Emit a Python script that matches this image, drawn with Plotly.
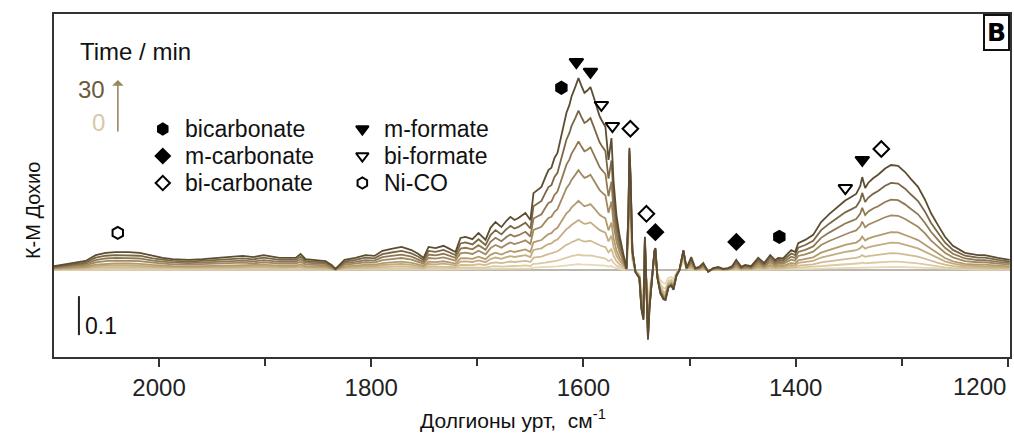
import plotly.graph_objects as go

# ---------------- data ----------------
wavenumber = [2099, 2078.6, 2069.2, 2059.7, 2050.3, 2040.9, 2028.6, 2018.3, 2006.0, 1996.6, 1987.2,
              1972.1, 1958.9, 1943.9, 1932.6, 1921.2, 1910.9, 1901.5, 1886.4, 1871.3, 1866.6, 1861.9,
              1843.1, 1837.4, 1833.7, 1829.9, 1825.2, 1814.9, 1805.4, 1797.0, 1789.4, 1781.0, 1771.5,
              1762.1, 1755.5, 1750.7, 1746.0, 1739.4, 1731.9, 1726.2, 1720.6, 1715.9, 1711.2, 1704.6,
              1698.9, 1692.3, 1687.6, 1682.9, 1677.3, 1672.6, 1668.8, 1665.0, 1661.3, 1654.7, 1650.0,
              1647.1, 1643.4, 1639.6, 1635.9, 1633.0, 1630.2, 1627.3, 1624.5, 1621.7, 1618.8, 1616.0,
              1613.2, 1611.3, 1607.6, 1604.7, 1601.9, 1599.1, 1596.3, 1593.4, 1590.6, 1587.8, 1584.9,
              1583.1, 1581.2, 1579.3, 1576.4, 1574.5, 1573.6, 1571.7, 1568.9, 1566.1, 1562.3, 1559.5,
              1557.6, 1556.7, 1555.7, 1553.9, 1551.0, 1547.3, 1545.4, 1543.5, 1542.1, 1540.7, 1539.2,
              1537.8, 1535.9, 1533.1, 1532.2, 1530.3, 1527.5, 1524.6, 1522.7, 1519.9, 1517.1, 1515.2,
              1512.4, 1509.5, 1505.8, 1502.9, 1498.4, 1494.6, 1490.9, 1487.1, 1482.4, 1477.7, 1473.0,
              1468.3, 1463.6, 1459.8, 1456.0, 1451.3, 1447.6, 1441.9, 1435.3, 1429.7, 1424.0, 1419.3,
              1416.5, 1411.8, 1404.2, 1400.5, 1397.6, 1391.0, 1383.5, 1376.0, 1368.4, 1359.9, 1353.3,
              1347.7, 1343.0, 1339.2, 1337.3, 1334.5, 1331.7, 1327.0, 1322.3, 1315.7, 1310.1, 1303.5,
              1296.9, 1291.3, 1284.7, 1278.1, 1272.5, 1265.9, 1259.3, 1251.8, 1240.5, 1228.3, 1221.7,
              1209.5, 1198.2]
km_30min = [0.010, 0.018, 0.023, 0.038, 0.044, 0.046, 0.046, 0.044, 0.036, 0.031, 0.028,
            0.026, 0.028, 0.031, 0.033, 0.036, 0.033, 0.038, 0.031, 0.031, 0.041, 0.028,
            0.023, 0.013, 0.003, 0.013, 0.026, 0.031, 0.038, 0.036, 0.049, 0.054, 0.059,
            0.051, 0.041, 0.031, 0.059, 0.056, 0.062, 0.054, 0.046, 0.082, 0.085, 0.079,
            0.095, 0.077, 0.108, 0.123, 0.110, 0.126, 0.136, 0.128, 0.133, 0.146, 0.128,
            0.197, 0.205, 0.213, 0.238, 0.256, 0.262, 0.287, 0.300, 0.333, 0.370, 0.403,
            0.423, 0.444, 0.470, 0.492, 0.472, 0.454, 0.460, 0.469, 0.445, 0.418, 0.395,
            0.385, 0.376, 0.367, 0.282, 0.320, 0.338, 0.230, 0.140, 0.090, 0.038, 0.003,
            0.150, 0.313, 0.250, 0.051, -0.005, -0.021, -0.100, -0.128, 0.085, -0.060, -0.179,
            -0.100, -0.030, 0.050, 0.056, -0.020, -0.060, -0.075, -0.077, -0.045, -0.040, -0.051,
            -0.015, 0.000, 0.051, 0.005, 0.033, 0.005, 0.008, 0.018, -0.005, 0.005, 0.008,
            0.003, 0.005, 0.010, 0.026, 0.008, 0.013, 0.010, 0.031, 0.018, 0.038, 0.025,
            0.031, 0.030, 0.051, 0.046, 0.069, 0.077, 0.090, 0.123, 0.143, 0.162, 0.178,
            0.187, 0.195, 0.215, 0.238, 0.210, 0.223, 0.235, 0.244, 0.260, 0.269, 0.267,
            0.251, 0.233, 0.213, 0.180, 0.146, 0.115, 0.085, 0.062, 0.044, 0.038, 0.038,
            0.031, 0.026]

# relative intensity of each time step (read from the 1300 / 1600 band heights)
broad_scale = [0.0, 0.03, 0.08, 0.16, 0.26, 0.36, 0.52, 0.67, 0.83, 1.0]
# sharp 1560-1500 cm-1 features saturate early
sharp_scale = [0.0, 0.45, 0.62, 0.74, 0.82, 0.88, 0.92, 0.95, 0.98, 1.0]
sharp_window = [1500, 1560]
curve_colors = ["#bdb8ae", "#e6d8b8", "#dccaa5", "#d0bb92", "#c3ac80", "#b39b6f",
                "#a18a61", "#8f7953", "#7a6746", "#5c4d32"]

# peak assignment markers: (species, wavenumber, height)
marker_species = ["Ni-CO", "bicarbonate", "m-formate", "m-formate", "bi-formate", "bi-formate",
                  "bi-carbonate", "bi-carbonate", "m-carbonate", "m-carbonate", "bicarbonate",
                  "bi-formate", "m-formate", "bi-carbonate"]
marker_wn = [2038.9, 1620.8, 1606.7, 1593.4, 1583.1, 1572.7, 1555.8, 1540.7, 1532.2, 1455.9,
             1415.4, 1353.2, 1337.2, 1319.3]
marker_y = [0.095, 0.467, 0.533, 0.508, 0.423, 0.369, 0.362, 0.144, 0.097, 0.072, 0.085,
            0.210, 0.282, 0.310]

legend_names = ["bicarbonate", "m-carbonate", "bi-carbonate", "m-formate", "bi-formate", "Ni-CO"]
legend_symbols = ["hexagon", "diamond", "diamond-open", "triangle-down", "triangle-down-open",
                  "hexagon-open"]
symbol_of = dict(zip(legend_names, legend_symbols))

x_ticks = [2000, 1800, 1600, 1400, 1200]
x_tick_text = ["2000", "1800", "1600", "1400", ""]
x_minor = [1900, 1700, 1500, 1300]

# ---------------- figure ----------------
W, H = 1014, 433
L, R, T, B = 54, 2, 14, 76
pw, ph = W - L - R, H - T - B
def px(x): return (x - L) / pw
def py(y): return (H - B - y) / ph

fig = go.Figure()
for i in range(len(broad_scale)):
    yv = []
    for wn, v in zip(wavenumber, km_30min):
        f = sharp_scale[i] if sharp_window[0] <= wn <= sharp_window[1] else broad_scale[i]
        yv.append(v * f)
    fig.add_trace(go.Scatter(x=wavenumber, y=yv, mode="lines",
                             line=dict(color=curve_colors[i], width=2 if i == 0 else 1.8),
                             showlegend=False, hoverinfo="skip"))

fig.add_trace(go.Scatter(
    x=marker_wn, y=marker_y, mode="markers", showlegend=False, cliponaxis=False,
    marker=dict(symbol=[symbol_of[s] for s in marker_species], size=12, color="black",
                line=dict(color="black", width=2))))

# legend block on an overlay axis in paper units
leg_x = [px(163)] * 3 + [px(363)] * 3
leg_y = [py(129), py(156), py(183)] * 2
fig.add_trace(go.Scatter(
    x=leg_x, y=leg_y, xaxis="x2", yaxis="y2", mode="markers", showlegend=False, cliponaxis=False,
    marker=dict(symbol=legend_symbols, size=11, color="black", line=dict(color="black", width=2))))

font = "Liberation Sans, Arial, sans-serif"
ann = []
for i, name in enumerate(legend_names):
    ann.append(dict(xref="paper", yref="paper", x=leg_x[i] + px(183) - px(163), y=leg_y[i],
                    text=name, showarrow=False, xanchor="left", yanchor="middle",
                    font=dict(size=23, color="#111", family=font)))
ann += [
    dict(xref="paper", yref="paper", x=px(78), y=py(52), text="Time / min", showarrow=False,
         xanchor="left", yanchor="middle", font=dict(size=24, color="#111", family=font)),
    dict(xref="paper", yref="paper", x=px(107), y=py(89), text="30", showarrow=False,
         xanchor="right", yanchor="middle", font=dict(size=24, color="#6b5a3a", family=font)),
    dict(xref="paper", yref="paper", x=px(107), y=py(123), text="0", showarrow=False,
         xanchor="right", yanchor="middle", font=dict(size=24, color="#d8c8a8", family=font)),
    dict(xref="paper", yref="paper", x=px(118), y=py(80), ax=0, ay=53, text="", showarrow=True,
         arrowhead=1, arrowsize=1.2, arrowwidth=1.6, arrowcolor="#9a8664"),
    dict(xref="paper", yref="paper", x=1.0, y=1.0, text="<b>B</b>", showarrow=False,
         xanchor="right", yanchor="top", bordercolor="#111", borderwidth=2, borderpad=2,
         bgcolor="white", font=dict(size=25, color="black", family="DejaVu Sans, sans-serif")),
    dict(xref="x", yref="y", x=2072, y=-0.143, text="0.1", showarrow=False, xanchor="left",
         yanchor="middle", font=dict(size=23, color="#111", family=font)),
    dict(xref="paper", yref="paper", x=px(20), y=py(210), text="К-М Дохио", textangle=-90,
         showarrow=False, font=dict(size=20, color="#111", family=font)),
    dict(xref="paper", yref="paper", x=px(514), y=py(419), text="Долгионы урт,  см<sup>-1</sup>",
         showarrow=False, xanchor="center", yanchor="middle",
         font=dict(size=21, color="#111", family=font)),
    dict(xref="paper", yref="paper", x=px(981), y=py(386), text="1200", showarrow=False,
         xanchor="center", yanchor="middle", font=dict(size=24, color="#222", family=font)),
]

shapes = [dict(type="line", xref="x", yref="y", x0=2075.5, x1=2075.5, y0=-0.167, y1=-0.067,
               line=dict(color="#222", width=2))]

fig.update_layout(
    width=W, height=H, margin=dict(l=L, r=R, t=T, b=B),
    paper_bgcolor="white", plot_bgcolor="white",
    annotations=ann, shapes=shapes, showlegend=False,
    xaxis=dict(range=[2099, 1198], tickvals=x_ticks, ticktext=x_tick_text, ticks="outside",
               ticklen=8, tickwidth=2,
               tickcolor="#333", showline=True, linewidth=2, linecolor="#333", mirror=True,
               showgrid=False, zeroline=False,
               minor=dict(tickvals=x_minor, ticks="outside", ticklen=7,
                          tickwidth=2, tickcolor="#333"),
               tickfont=dict(size=24, color="#222", family=font)),
    yaxis=dict(range=[-0.223, 0.656], showticklabels=False, ticks="", showline=True, linewidth=2,
               linecolor="#333", mirror=True, showgrid=False, zeroline=False),
    xaxis2=dict(overlaying="x", range=[0, 1], visible=False),
    yaxis2=dict(overlaying="y", range=[0, 1], visible=False),
)

fig.write_html("out.html")
